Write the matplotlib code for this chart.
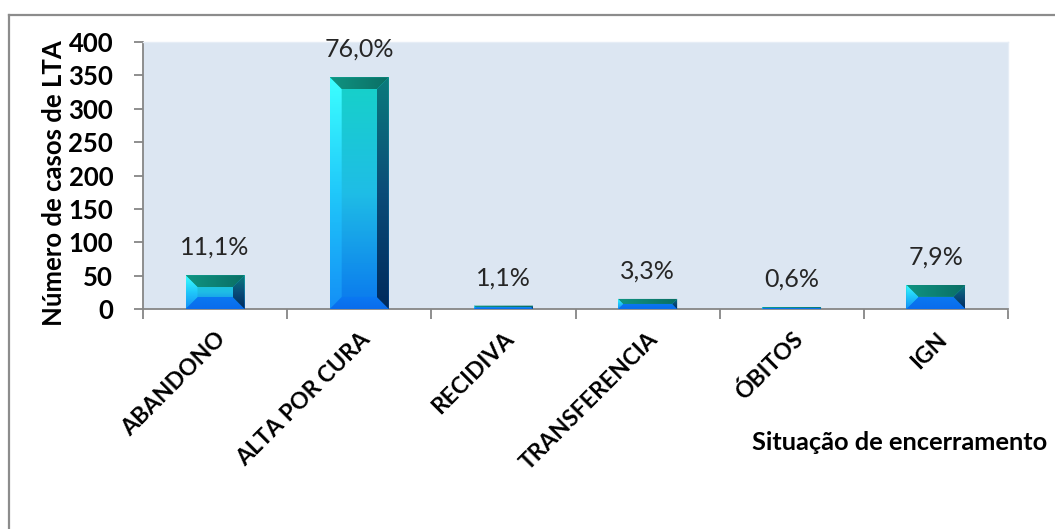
import numpy as np
import matplotlib.pyplot as plt
from matplotlib.patches import Polygon
from matplotlib.colors import LinearSegmentedColormap
from matplotlib.lines import Line2D

plt.rcParams['font.family'] = ['Lato', 'DejaVu Sans']

categorias = ["ABANDONO", "ALTA POR CURA", "RECIDIVA", "TRANSFERENCIA", "ÓBITOS", "IGN"]
percentuais = [11.1, 76.0, 1.1, 3.3, 0.6, 7.9]
total_casos = 457
casos = [p * total_casos / 100 for p in percentuais]
rotulos = ["11,1%", "76,0%", "1,1%", "3,3%", "0,6%", "7,9%"]
y_ticks = [0, 50, 100, 150, 200, 250, 300, 350, 400]

W, H = 1055, 529
fig = plt.figure(figsize=(W / 100, H / 100), dpi=100)
ax = fig.add_axes([143 / W, 220 / H, 865 / W, 267 / H])
ax.set_facecolor("#dce6f2")


def gradient(ax, verts, colors, vertical=True):
    """Fill a polygon (data coords) with a linear colour ramp, colors[0] at top/left."""
    verts = np.asarray(verts)
    poly = Polygon(verts, closed=True, facecolor="none", edgecolor="none")
    ax.add_patch(poly)
    cmap = LinearSegmentedColormap.from_list("g", colors)
    ramp = np.linspace(0, 1, 64)
    img = ramp.reshape(-1, 1) if vertical else ramp.reshape(1, -1)
    x0, x1 = verts[:, 0].min(), verts[:, 0].max()
    y0, y1 = verts[:, 1].min(), verts[:, 1].max()
    im = ax.imshow(img, cmap=cmap, vmin=0, vmax=1, extent=(x0, x1, y0, y1),
                   aspect="auto", interpolation="bicubic", zorder=3)
    im.set_clip_path(poly)


x = np.arange(len(categorias))
ax.set_xlim(-0.5, len(categorias) - 0.5)
ax.set_ylim(0, 400)

bars = ax.bar(x, casos, width=0.41, color="none", zorder=2)

# bevelled bar look: face + four edge facets, bevel size in pixels
inv = ax.transData.inverted()
for b in bars:
    (dx0, dy0), (dx1, dy1) = ax.transData.transform(
        [(b.get_x(), 0), (b.get_x() + b.get_width(), b.get_height())])
    d = min(12, (dx1 - dx0) / 2, (dy1 - dy0) / 2)
    to_data = inv.transform
    face = to_data([(dx0, dy0), (dx1, dy0), (dx1, dy1), (dx0, dy1)])
    gradient(ax, face, ["#16d2c8", "#1fbde6", "#0a78ee"])
    top = to_data([(dx0, dy1), (dx1, dy1), (dx1 - d, dy1 - d), (dx0 + d, dy1 - d)])
    gradient(ax, top, ["#109482", "#0a6e64"], vertical=False)
    bottom = to_data([(dx0, dy0), (dx1, dy0), (dx1 - d, dy0 + d), (dx0 + d, dy0 + d)])
    gradient(ax, bottom, ["#0a78f2", "#0a6cec"])
    left = to_data([(dx0, dy0), (dx0 + d, dy0 + d), (dx0 + d, dy1 - d), (dx0, dy1)])
    gradient(ax, left, ["#3cffff", "#20c8fa", "#1490f6"])
    right = to_data([(dx1, dy0), (dx1 - d, dy0 + d), (dx1 - d, dy1 - d), (dx1, dy1)])
    gradient(ax, right, ["#0a7a7c", "#0a4c78", "#002a5c"])

for b, txt in zip(bars, rotulos):
    ax.annotate(txt, (b.get_x() + b.get_width() / 2, b.get_height()),
                xytext=(0, 14.5), textcoords="offset points", ha="center", va="baseline",
                fontsize=18, color="#262626", zorder=5)

ax.set_yticks(y_ticks)
ax.set_yticklabels([str(v) for v in y_ticks], fontsize=18.5, fontweight="bold")
ax.set_xticks(x)
ax.set_xticklabels(categorias, fontsize=16.5, fontweight="bold", rotation=45,
                   ha="right", va="top", rotation_mode="anchor")
ax.tick_params(axis="x", length=0, pad=14)
ax.set_xticks(np.arange(-0.5, len(categorias)), minor=True)
ax.tick_params(axis="x", which="minor", length=7, width=1.3, color="#868686")
ax.tick_params(axis="y", length=6.5, width=1.3, color="#868686", pad=15)

for s in ["top", "right"]:
    ax.spines[s].set_color("#e6edf6")
    ax.spines[s].set_linewidth(1)
for s in ["left", "bottom"]:
    ax.spines[s].set_color("#868686")
    ax.spines[s].set_linewidth(1.3)

ax.set_ylabel("Número de casos de LTA", fontsize=18.5, fontweight="bold")
ax.yaxis.set_label_coords(-0.089, 0.47)
fig.text(752 / W, 1 - 450 / H, "Situação de encerramento", fontsize=18.3,
         fontweight="bold", ha="left", va="baseline")

# outer chart frame (open on the right and bottom)
fx0, fy1 = 9 / W, 1 - 15 / H
fig.add_artist(Line2D([fx0, fx0], [0, fy1], color="#8c8c8c", lw=1.6))
fig.add_artist(Line2D([fx0, 1], [fy1, fy1], color="#8c8c8c", lw=1.6))

fig.savefig("out.png", dpi=100)
